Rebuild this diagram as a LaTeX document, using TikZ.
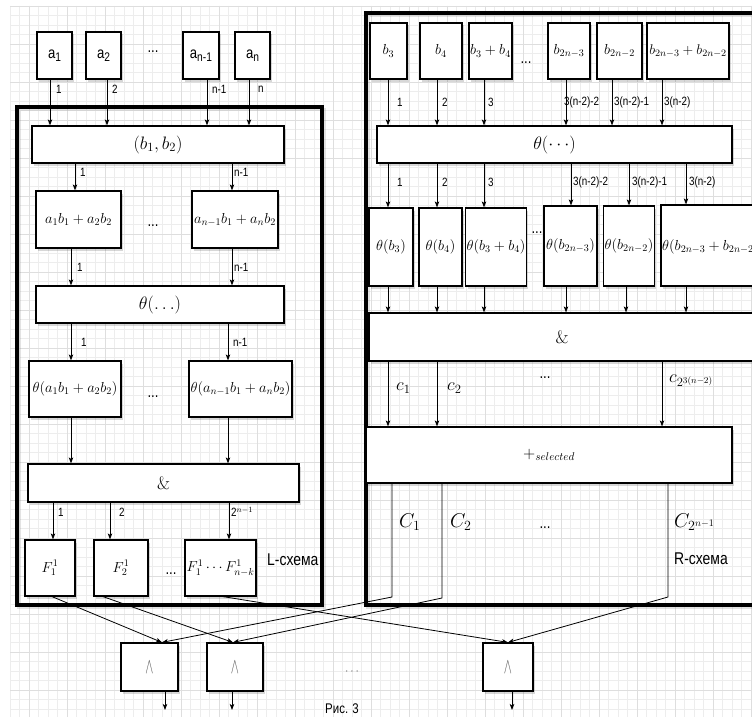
\RequirePackage{fix-cm}
\documentclass[tikz,border=0pt]{standalone}
\usepackage{graphicx}
\usepackage[no-math]{fontspec}
\newfontfamily\lsans[FakeStretch=0.82]{Liberation Sans}
\usetikzlibrary{arrows.meta,shadows}
\newcommand\fs[1]{\fontsize{#1}{#1}\selectfont}
\newcommand\ssub[1]{\raisebox{-3.3pt}{\fs{12.5}#1}}
\newcommand\andsym{\fs{22}\color{black!65}\scalebox{0.55}[1]{$\wedge$}}
\newcommand\bxn[7][]{\node[bx,#1,minimum width=#5,minimum height=#6] (#2) at (#3,#4) {#7};}
\newcommand\varr[3]{\draw[arr] (#1.south -| #3,0) -- (#2.north -| #3,0);}
\newcommand\lab[4]{\node[lbl] (#1) at (#2,#3) {#4};}
\tikzset{
 bx/.style={draw,line width=1.2pt,fill=white,inner sep=1pt,
   drop shadow={shadow xshift=2pt,shadow yshift=-2.5pt,opacity=0.22,fill=black!70}},
 frame/.style={draw,line width=3.5pt},
 fshadow/.style={draw=black!60,line width=3.5pt,opacity=0.18},
 arr/.style={-{Stealth[length=6pt,width=4.5pt,inset=1.5pt]},line width=0.8pt},
 lbl/.style={font=\lsans\fs{12},inner sep=0pt,anchor=west},
 sdots/.style={font=\lsans\fs{16},inner sep=0pt},
 gmin/.style={draw=black!7,line width=0.5pt},
 gmaj/.style={draw=black!13,line width=0.6pt},
 mbig/.style={font=\fs{18}},
 msm/.style={font=\fs{14.5}},
 mlab/.style={inner sep=0pt,anchor=west},
}
\begin{document}
\begin{tikzpicture}[x=1pt,y=-1pt]
\useasboundingbox (0,0) rectangle (752,717);
\clip (0,0) rectangle (752,717);
\fill[white] (0,0) rectangle (752,717);
% grid
\foreach \i in {0,...,78} {\draw[gmin] ({10+9.5*\i},6) -- ({10+9.5*\i},717);}
\foreach \j in {0,...,75} {\draw[gmin] (10,{6+9.5*\j}) -- (752,{6+9.5*\j});}
\foreach \i in {0,...,19} {\draw[gmaj] ({29+38*\i},6) -- ({29+38*\i},717);}
\foreach \j in {0,...,18} {\draw[gmaj] (10,{6+38*\j}) -- (752,{6+38*\j});}
% frames
\draw[fshadow] (19,109.5) rectangle (324.5,607.5);
\draw[frame] (17,107) rectangle (322,605);
\draw[fshadow] (368,15.5) rectangle (790,607.5);
\draw[frame] (366,13) rectangle (790,605);
% ---------- L side
\bxn{a1}{54.5}{55.5}{35}{47}{\lsans\fs{16}a\ssub{1}}
\bxn{a2}{103.5}{55.5}{35}{47}{\lsans\fs{16}a\ssub{2}}
\bxn{an1}{201}{55.5}{36}{47}{\lsans\fs{16}a\ssub{n-1}}
\bxn{an}{252.5}{55.5}{35}{47}{\lsans\fs{16}a\ssub{n}}
\node[sdots] (d1) at (153,52) {...};
\bxn[mbig]{b12}{158}{144.5}{252}{37}{$(b_1,b_2)$}
\bxn[msm]{s1}{78.5}{219.5}{85}{57}{$a_1b_1+a_2b_2$}
\bxn[msm]{s2}{235}{219.5}{86}{57}{$a_{n-1}b_1+a_nb_2$}
\node[sdots] (d2) at (153,226) {...};
\bxn[mbig]{thL}{160}{304.5}{248}{37}{$\theta(\ldots)$}
\bxn[msm]{t1}{75}{389}{92}{56}{$\theta(a_1b_1+a_2b_2)$}
\bxn[msm]{t2}{240.5}{389}{103}{56}{$\theta(a_{n-1}b_1+a_nb_2)$}
\node[sdots] (d3) at (153,397) {...};
\bxn[mbig]{andL}{163.5}{483}{271}{38}{$\&$}
\bxn[msm]{F1}{50}{568}{50}{56}{$F_1^1$}
\bxn[msm]{F2}{121}{568}{54}{56}{$F_2^1$}
\bxn[msm]{F3}{220.5}{568}{71}{56}{$F_1^1\cdots F_{n-k}^1$}
\node[sdots] (d4) at (171,574) {...};
\node[lbl,font=\lsans\fs{17}] (Lname) at (267,560) {L-схема};
\varr{a1}{b12}{50} \lab{la1}{56}{89}{1}
\varr{a2}{b12}{107} \lab{la2}{112}{89}{2}
\varr{an1}{b12}{207} \lab{la3}{212}{89}{n-1}
\varr{an}{b12}{249} \lab{la4}{258}{89}{n}
\varr{b12}{s1}{75} \lab{lb1}{80}{172}{1}
\varr{b12}{s2}{232} \lab{lb2}{234}{172}{n-1}
\varr{s1}{thL}{71} \lab{lc1}{77}{267}{1}
\varr{s2}{thL}{232} \lab{lc2}{234}{267}{n-1}
\varr{thL}{t1}{71} \lab{ld1}{81}{342}{1}
\varr{thL}{t2}{228} \lab{ld2}{233}{342}{n-1}
\varr{t1}{andL}{71}
\varr{t2}{andL}{228}
\varr{andL}{F1}{53} \lab{le1}{58}{512}{1}
\varr{andL}{F2}{110} \lab{le2}{119}{512}{2}
\varr{andL}{F3}{229} \lab{le3}{231}{512}{2$^{n-1}$}
% ---------- R side
\bxn[msm]{b3}{388.5}{51}{37}{56}{$b_3$}
\bxn[msm]{b4}{441}{51}{42}{56}{$b_4$}
\bxn[msm]{b34}{490.5}{51}{43}{56}{$b_3+b_4$}
\node[sdots] (d5) at (526,63) {...};
\bxn[msm]{b2n3}{569}{51}{42}{56}{$b_{2n-3}$}
\bxn[msm]{b2n2}{619.5}{51}{45}{56}{$b_{2n-2}$}
\bxn[font=\fs{14}]{bs}{688}{51}{82}{56}{$b_{2n-3}+b_{2n-2}$}
\bxn[mbig]{thR}{554.5}{144.5}{355}{37}{$\theta(\cdots)$}
\bxn[msm]{tb3}{391}{247}{44}{78}{$\theta(b_3)$}
\bxn[msm]{tb4}{440.5}{247}{43}{78}{$\theta(b_4)$}
\bxn[msm]{tb34}{496}{247}{60}{78}{$\theta(b_3+b_4)$}
\node[sdots] (d6) at (537,233) {...};
\bxn[msm]{tb2n3}{570.5}{246}{53}{80}{$\theta(b_{2n-3})$}
\bxn[msm]{tb2n2}{629}{246}{50}{80}{$\theta(b_{2n-2})$}
\bxn{tbs}{715.5}{245.5}{109}{81}{}
\node[mlab,font=\fs{14.5}] (tbst) at (662,247) {$\theta(b_{2n-3}+b_{2n-2})$};
\bxn[mbig]{andR}{562}{337}{386}{48}{$\&$}
\bxn{sel}{549}{455}{366}{56}{\fs{16}$+_{selected}$}
\varr{b3}{thR}{388} \lab{lf1}{397}{102}{1}
\varr{b4}{thR}{437} \lab{lf2}{442}{102}{2}
\varr{b34}{thR}{484} \lab{lf3}{488}{102}{3}
\varr{b2n3}{thR}{566} \lab{lf4}{564}{102}{3(n-2)-2}
\varr{b2n2}{thR}{612} \lab{lf5}{614}{102}{3(n-2)-1}
\varr{bs}{thR}{662} \lab{lf6}{664}{102}{3(n-2)}
\varr{thR}{tb3}{388} \lab{lg1}{397}{182}{1}
\varr{thR}{tb4}{437} \lab{lg2}{442}{182}{2}
\varr{thR}{tb34}{484} \lab{lg3}{488}{182}{3}
\varr{thR}{tb2n3}{571} \lab{lg4}{573}{182}{3(n-2)-2}
\varr{thR}{tb2n2}{629} \lab{lg5}{632}{182}{3(n-2)-1}
\varr{thR}{tbs}{686} \lab{lg6}{689}{182}{3(n-2)}
\varr{tb3}{andR}{388}
\varr{tb4}{andR}{437}
\varr{tb34}{andR}{484}
\varr{tb2n3}{andR}{566}
\varr{tb2n2}{andR}{626}
\varr{tbs}{andR}{686}
\varr{andR}{sel}{388}
\varr{andR}{sel}{437}
\varr{andR}{sel}{662}
\node[mlab,font=\fs{18}] (c1) at (396,388) {$c_1$};
\node[mlab,font=\fs{18}] (c2) at (447,388) {$c_2$};
\node[sdots] (d7) at (545,378) {...};
\node[mlab,font=\fs{18}] (cn) at (669,381) {$c_{2^{3(n-2)}}$};
\node[mlab,font=\fs{20}] (C1) at (399,522) {$C_1$};
\node[mlab,font=\fs{20}] (C2) at (450,522) {$C_2$};
\node[sdots] (d8) at (545,528) {...};
\node[mlab,font=\fs{20}] (Cn) at (674,522) {$C_{2^{n-1}}$};
\node[lbl,font=\lsans\fs{17}] (Rname) at (674,559) {R-схема};
% ---------- bottom
\bxn{w1}{149.5}{667}{57}{48}{\andsym}
\bxn{w2}{235}{667}{56}{48}{\andsym}
\bxn{w3}{508}{667}{50}{48}{\andsym}
\node[inner sep=0pt] (d9) at (352,672) {\fs{12}\color{black!60}$\cdots$};
\node[inner sep=0pt,font=\lsans\fs{14}] (cap) at (342,709) {Рис. 3};
\coordinate (k1) at (392,597);
\coordinate (k2) at (442,598);
\coordinate (k3) at (668,597);
\draw[arr] (sel.south -| k1) -- (k1) -- (w1.north -| 162,0);
\draw[arr] (sel.south -| k2) -- (k2) -- (w2.north -| 233,0);
\draw[arr] (sel.south -| k3) -- (k3) -- (w3.north -| 508,0);
\draw[arr] (F1.south -| 52,0) -- (w1.north -| 162,0);
\draw[arr] (F2.south -| 103,0) -- (w2.north -| 233,0);
\draw[arr] (F3.south -| 223,0) -- (w3.north -| 508,0);
\coordinate (o1) at (165,710);
\coordinate (o2) at (232,710);
\coordinate (o3) at (512,710);
\draw[arr] (w1.south -| o1) -- (o1);
\draw[arr] (w2.south -| o2) -- (o2);
\draw[arr] (w3.south -| o3) -- (o3);
\end{tikzpicture}
\end{document}
